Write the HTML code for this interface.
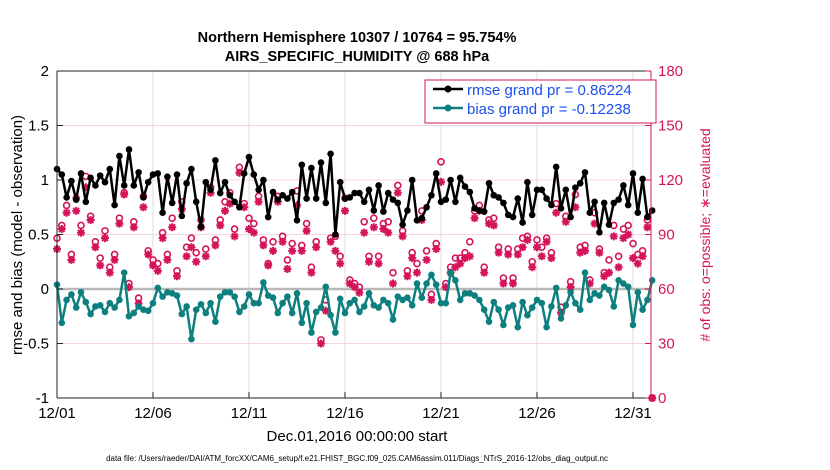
<!DOCTYPE html>
<html><head><meta charset="utf-8"><style>
body{margin:0;background:#fff;}
svg{display:block;font-family:"Liberation Sans",sans-serif;}
</style></head><body>
<svg id="chart" width="830" height="470" viewBox="0 0 830 470">
<text x="357" y="42" text-anchor="middle" font-size="14.5" font-weight="bold">Northern Hemisphere 10307 / 10764 = 95.754%</text>
<text x="357" y="61" text-anchor="middle" font-size="14.5" font-weight="bold">AIRS_SPECIFIC_HUMIDITY @ 688 hPa</text>
<g id="grid"></g>
<g id="marks"></g>
<g id="axes"></g>
<text transform="translate(22,235) rotate(-90)" text-anchor="middle" font-size="15">rmse and bias (model - observation)</text>
<text transform="translate(710,235) rotate(-90)" text-anchor="middle" font-size="14" fill="#d4145a"># of obs: o=possible; ∗=evaluated</text>
<text x="357" y="441" text-anchor="middle" font-size="15">Dec.01,2016 00:00:00 start</text>
<text x="357" y="461" text-anchor="middle" font-size="8">data file: /Users/raeder/DAI/ATM_forcXX/CAM6_setup/f.e21.FHIST_BGC.f09_025.CAM6assim.011/Diags_NTrS_2016-12/obs_diag_output.nc</text>
<g>
<rect x="425" y="80" width="231" height="43" fill="#fff" stroke="#d4145a" stroke-width="1"/>
<line x1="433" y1="89" x2="463" y2="89" stroke="#000" stroke-width="2.5"/><circle cx="448" cy="89" r="3.5" fill="#000"/>
<text x="467" y="95" font-size="15" fill="#1a4ff0">rmse grand pr = 0.86224</text>
<line x1="433" y1="108" x2="463" y2="108" stroke="#0e7f7f" stroke-width="2.5"/><circle cx="448" cy="108" r="3.5" fill="#0e7f7f"/>
<text x="467" y="114" font-size="15" fill="#1a4ff0">bias grand pr = -0.12238</text>
</g>
</svg>
<script>
const rmse=[1.10,1.05,0.84,0.99,0.82,1.06,0.80,1.02,0.95,1.04,0.98,1.10,0.77,1.22,0.95,1.28,0.95,1.07,0.84,0.98,1.05,1.06,0.70,1.03,0.79,1.05,0.67,0.97,1.10,0.80,0.57,0.98,
0.91,1.18,0.88,0.98,0.86,0.80,0.75,1.06,1.21,1.05,0.91,1.00,0.66,0.89,0.82,0.86,0.83,0.89,0.63,1.14,0.83,1.11,0.83,1.16,0.79,1.24,0.50,0.98,0.83,0.84,0.88,
0.88,0.80,0.91,0.72,0.95,0.71,0.88,0.82,0.79,0.59,0.72,1.00,0.63,0.65,0.75,0.86,1.06,0.80,0.82,1.00,0.80,1.02,0.94,0.89,0.74,0.72,0.71,0.97,0.86,0.84,0.79,
0.68,0.66,0.83,0.61,0.98,0.68,0.91,0.91,0.83,0.77,1.12,0.74,0.91,0.66,0.93,0.97,1.07,0.70,0.80,0.52,0.79,0.59,0.79,0.82,0.95,0.77,1.06,0.70,1.01,0.66,0.72];
const bias=[0.04,-0.31,-0.10,-0.05,-0.17,-0.03,-0.12,-0.23,-0.16,-0.15,-0.21,-0.13,-0.17,-0.10,0.15,-0.25,-0.22,-0.16,-0.19,-0.20,-0.13,0.01,-0.07,-0.03,-0.04,-0.06,-0.23,-0.16,-0.46,-0.19,-0.14,-0.22,
-0.13,-0.30,-0.07,-0.03,-0.03,-0.07,-0.21,-0.16,-0.05,-0.13,-0.13,0.06,-0.06,-0.08,-0.22,-0.13,-0.07,-0.22,-0.04,-0.31,-0.13,-0.40,-0.21,-0.17,0.02,-0.24,-0.40,-0.09,-0.22,-0.13,-0.10,
-0.21,-0.16,-0.04,-0.15,-0.17,-0.10,-0.13,-0.28,-0.07,-0.10,-0.08,-0.15,0.05,-0.08,0.05,0.13,0.04,-0.13,-0.13,0.15,0.08,-0.10,-0.04,-0.04,-0.06,-0.10,-0.19,-0.30,-0.12,-0.19,-0.33,
-0.17,-0.15,-0.35,-0.12,-0.24,-0.17,-0.10,-0.13,-0.35,-0.16,0.01,-0.27,-0.15,-0.03,-0.13,-0.19,0.15,-0.10,-0.04,-0.06,0.02,-0.01,-0.16,0.08,0.05,0.02,-0.33,-0.03,-0.19,-0.10,0.08];
const evaluated=[82,93,102,76,103,91,116,98,83,73,88,69,76,96,112,61,94,52,105,79,73,70,88,76,94,67,104,78,83,75,94,78,
113,84,95,103,107,89,124,105,93,91,108,84,73,81,108,86,71,81,106,81,92,69,83,30,48,86,81,74,103,63,61,
58,91,75,94,74,93,91,63,113,89,67,77,69,98,76,54,82,119,61,69,72,74,77,78,99,103,69,96,95,80,63,79,
63,79,83,87,72,83,78,86,77,102,47,97,61,105,80,81,63,96,80,67,69,89,72,88,90,77,74,78,94,0];
const possible=[88,95,106,79,110,95,122,100,86,77,92,72,79,99,113,63,97,55,111,81,76,74,91,79,99,70,108,83,88,80,98,82,
116,87,98,108,113,93,127,107,99,96,111,87,74,86,111,89,76,85,114,84,96,72,86,32,54,88,89,78,110,65,63,
61,97,78,99,78,96,97,69,117,92,70,80,74,103,81,57,85,130,63,72,77,77,80,86,103,106,72,98,99,83,66,82,
66,82,88,89,75,87,83,88,80,107,50,100,64,112,83,84,65,102,82,69,76,95,78,93,95,85,79,81,98,0];
const yTicks=[-1,-0.5,0,0.5,1,1.5,2];
const yTickLabels=["-1","-0.5","0","0.5","1","1.5","2"];
const y2Ticks=[0,30,60,90,120,150,180];
const xTicks=[0,5,10,15,20,25,30];
const xTickLabels=["12/01","12/06","12/11","12/16","12/21","12/26","12/31"];

const L=57,R=651,T=71,B=398;
const X=d=>L+d*19.2;
const Y=v=>B-(v+1)*(B-T)/3;
const Y2=c=>B-c*(B-T)/180;
const ns="http://www.w3.org/2000/svg";
function mk(tag,parent,attrs){const e=document.createElementNS(ns,tag);for(const k in attrs)e.setAttribute(k,attrs[k]);parent.appendChild(e);return e;}
const grid=document.getElementById('grid'),marks=document.getElementById('marks'),axes=document.getElementById('axes');
mk('rect',grid,{x:L,y:T,width:R-L,height:B-T,fill:'#fff'});
xTicks.forEach(d=>{const l=mk('line',grid,{x1:X(d),x2:X(d),y1:T,y2:B,stroke:'#dcdcdc','stroke-width':1});
});
y2Ticks.forEach(c=>{const l=mk('line',grid,{x1:L,x2:R,y1:Y2(c),y2:Y2(c),stroke:'#f6d3e0','stroke-width':1});
});
const z=mk('line',grid,{x1:L,x2:R,y1:Y(0),y2:Y(0),stroke:'#b8b8b8','stroke-width':2.5});


const px=i=>X(i/4);
possible.forEach((c,i)=>{const e=mk('circle',marks,{cx:px(i),cy:Y2(c),r:3,fill:'none',stroke:'#d4145a','stroke-width':1.6});
});
evaluated.forEach((c,i)=>{const x=px(i),y=Y2(c),s=4,d=2.9;
const e=mk('path',marks,{d:`M${x-s},${y}H${x+s}M${x},${y-s}V${y+s}M${x-d},${y-d}L${x+d},${y+d}M${x-d},${y+d}L${x+d},${y-d}`,stroke:'#d4145a','stroke-width':2,fill:'none'});
});
function series(arr,color,name){
  const pl=mk('polyline',marks,{points:arr.map((v,i)=>px(i)+','+Y(v)).join(' '),fill:'none',stroke:color,'stroke-width':2.5,'stroke-linejoin':'round'});
  
  arr.forEach((v,i)=>{const c=mk('circle',marks,{cx:px(i),cy:Y(v),r:3.3,fill:color});
  });
}
series(rmse,'#000','rmse');
series(bias,'#0e7f7f','bias');

mk('line',axes,{x1:L,x2:R,y1:B,y2:B,stroke:'#222','stroke-width':1});
mk('line',axes,{x1:L,x2:L,y1:T,y2:B,stroke:'#222','stroke-width':1});
mk('line',axes,{x1:R,x2:R,y1:T,y2:B,stroke:'#d4145a','stroke-width':1});
mk('line',axes,{x1:L,x2:R,y1:T,y2:T,stroke:'#222','stroke-width':1});
yTicks.forEach((v,k)=>{mk('line',axes,{x1:L,x2:L+6,y1:Y(v),y2:Y(v),stroke:'#222'});
const t=mk('text',axes,{x:L-8,y:Y(v)+5,'text-anchor':'end','font-size':15});t.textContent=yTickLabels[k];
});
y2Ticks.forEach(c=>{mk('line',axes,{x1:R-6,x2:R,y1:Y2(c),y2:Y2(c),stroke:'#d4145a'});
const t=mk('text',axes,{x:R+7,y:Y2(c)+5,'font-size':15,fill:'#d4145a'});t.textContent=c;
});
xTicks.forEach((d,k)=>{mk('line',axes,{x1:X(d),x2:X(d),y1:B,y2:B-6,stroke:'#222'});
const t=mk('text',axes,{x:X(d),y:B+20,'text-anchor':'middle','font-size':15});t.textContent=xTickLabels[k];
});
</script>
</body></html>
